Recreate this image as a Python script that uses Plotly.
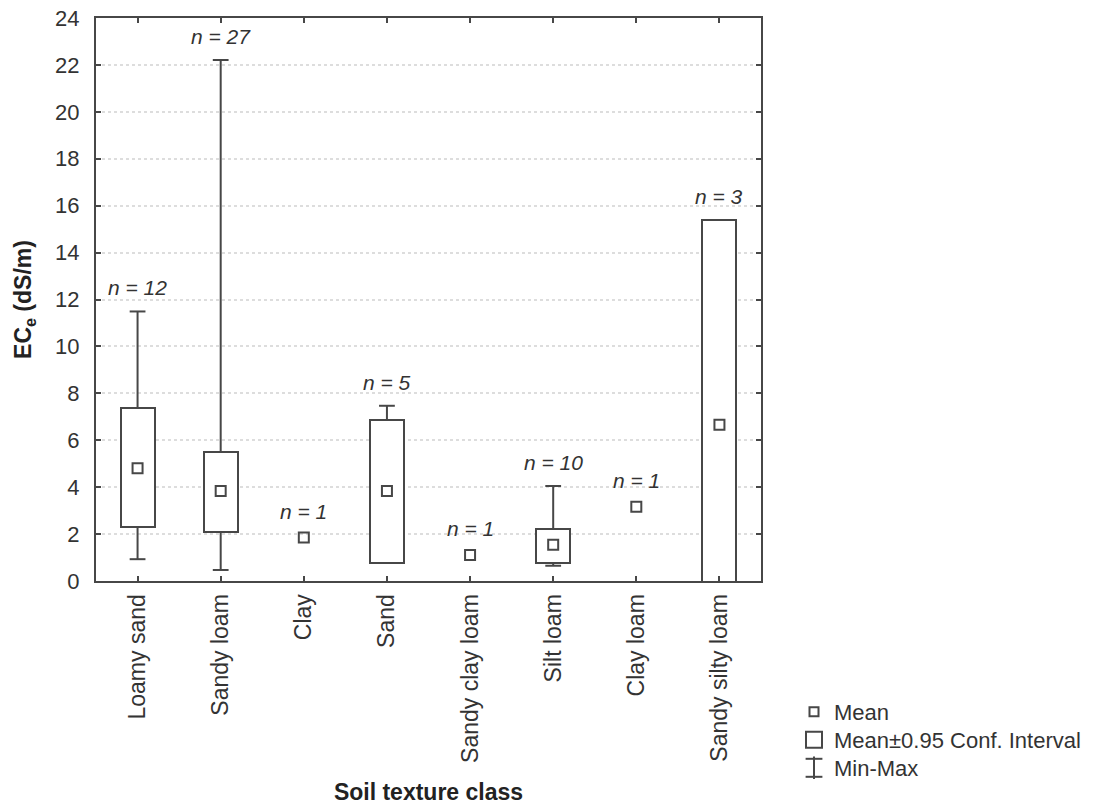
import plotly.graph_objects as go

categories = ["Loamy sand", "Sandy loam", "Clay", "Sand", "Sandy clay loam",
              "Silt loam", "Clay loam", "Sandy silty loam"]
n_counts = [12, 27, 1, 5, 1, 10, 1, 3]
means = [4.81, 3.84, 1.85, 3.84, 1.11, 1.54, 3.17, 6.66]
ci_low = [2.32, 2.10, None, 0.78, None, 0.78, None, -2.05]
ci_high = [7.37, 5.52, None, 6.87, None, 2.20, None, 15.37]
min_vals = [0.93, 0.47, 1.85, 0.90, 1.11, 0.65, 3.17, 3.10]
max_vals = [11.49, 22.21, 1.85, 7.47, 1.11, 4.05, 3.17, 10.50]
y_ticks = list(range(0, 25, 2))

LINE = "#474747"
TEXT = "#333333"
FONT = "Liberation Sans, Arial, sans-serif"
BOX_W = 0.41
CAP_HALF = 0.095

W, H = 1098, 807
ML, MT = 96, 18
MR = W - 761
MB = H - 581
PH = H - MT - MB
PW = W - ML - MR


def py(px):
    """pixel row -> paper y"""
    return ((H - MB) - px) / PH


def pxx(px):
    """pixel column -> paper x"""
    return (px - ML) / PW


xs = list(range(len(categories)))

fig = go.Figure()

# Confidence interval boxes
bx, bbase, bh = [], [], []
for i in xs:
    if ci_low[i] is not None:
        bx.append(i)
        bbase.append(ci_low[i])
        bh.append(ci_high[i] - ci_low[i])
fig.add_trace(go.Bar(
    x=bx, y=bh, base=bbase, width=BOX_W,
    marker=dict(color="white", line=dict(color=LINE, width=2)),
    showlegend=False, hoverinfo="skip"))

# Min-Max whiskers
wx, wy = [], []
for i in xs:
    if ci_low[i] is None:
        continue
    if max_vals[i] > ci_high[i]:
        wx += [i, i, None, i - CAP_HALF, i + CAP_HALF, None]
        wy += [ci_high[i], max_vals[i], None, max_vals[i], max_vals[i], None]
    if min_vals[i] < ci_low[i]:
        wx += [i, i, None, i - CAP_HALF, i + CAP_HALF, None]
        wy += [ci_low[i], min_vals[i], None, min_vals[i], min_vals[i], None]
fig.add_trace(go.Scatter(x=wx, y=wy, mode="lines",
                         line=dict(color=LINE, width=2),
                         showlegend=False, hoverinfo="skip"))

# Means
fig.add_trace(go.Scatter(x=xs, y=means, mode="markers",
                         marker=dict(symbol="square-open", size=10,
                                     color=LINE, line=dict(width=2, color=LINE)),
                         showlegend=False))

# Legend entries (each in its own legend box so rows can be placed freely)
fig.add_trace(go.Scatter(x=[None], y=[None], mode="markers", name="Mean",
                         legend="legend",
                         marker=dict(symbol="square-open", size=9, color=LINE,
                                     line=dict(width=2, color=LINE))))
fig.add_trace(go.Scatter(x=[None], y=[None], mode="markers",
                         name="Mean\u00b10.95 Conf. Interval", legend="legend2",
                         marker=dict(symbol="square-open", size=20, color=LINE,
                                     line=dict(width=2, color=LINE))))
fig.add_trace(go.Scatter(x=[None], y=[None], mode="markers", name="Min-Max",
                         legend="legend3",
                         marker=dict(symbol="line-ns-open", size=18, color=LINE,
                                     line=dict(width=2, color=LINE))))
fig.add_trace(go.Scatter(x=[None], y=[None], mode="markers", name=" ",
                         legend="legend4",
                         marker=dict(symbol="line-ew-open", size=12, color=LINE,
                                     line=dict(width=2, color=LINE))))
fig.add_trace(go.Scatter(x=[None], y=[None], mode="markers", name=" ",
                         legend="legend5",
                         marker=dict(symbol="line-ew-open", size=12, color=LINE,
                                     line=dict(width=2, color=LINE))))

# n labels
for i in xs:
    tops = [means[i], max_vals[i]]
    if ci_high[i] is not None:
        tops.append(ci_high[i])
    top = max(tops)
    shift = 10 if n_counts[i] > 1 else 13
    fig.add_annotation(x=i, y=top, text=f"<i>n = {n_counts[i]}</i>",
                       showarrow=False, yanchor="bottom", yshift=shift,
                       font=dict(family=FONT, size=21, color=TEXT))

base_leg = dict(x=pxx(794), xanchor="left", yanchor="middle",
                font=dict(family=FONT, size=22, color=TEXT),
                bgcolor="rgba(0,0,0,0)", itemwidth=30)

fig.update_layout(
    width=W, height=H,
    margin=dict(l=ML, r=MR, t=MT, b=MB, autoexpand=False),
    paper_bgcolor="white", plot_bgcolor="white",
    font=dict(family=FONT, size=22, color=TEXT),
    bargap=0, barmode="overlay",
    legend=dict(base_leg, y=py(712)),
    legend2=dict(base_leg, y=py(740)),
    legend3=dict(base_leg, y=py(768)),
    legend4=dict(base_leg, y=py(768) + 9 / PH),
    legend5=dict(base_leg, y=py(768) - 9 / PH),
)

fig.update_xaxes(
    range=[-0.5, 7.5], tickmode="array", tickvals=xs, ticktext=categories,
    tickangle=-90, ticks="inside", ticklen=5, tickwidth=1.5, tickcolor=LINE,
    showline=True, linecolor=LINE, linewidth=2, mirror="ticks",
    showgrid=False, zeroline=False, ticklabelstandoff=2, automargin=False,
    tickfont=dict(family=FONT, size=23, color=TEXT),
    title=dict(text="<b>Soil texture class</b>", standoff=22,
               font=dict(family=FONT, size=23, color="#222222")),
)
fig.update_yaxes(
    range=[0, 24], tickmode="array", tickvals=y_ticks,
    ticks="inside", ticklen=5, tickwidth=1.5, tickcolor=LINE,
    showline=True, linecolor=LINE, linewidth=2, mirror="ticks",
    showgrid=True, gridcolor="#dddddd", gridwidth=1.5, griddash="dot",
    zeroline=False, ticklabelstandoff=10, automargin=False,
    ticklabeloverflow="allow",
    tickfont=dict(family=FONT, size=22, color=TEXT),
    title=dict(text="<b>EC<sub>e</sub> (dS/m)</b>", standoff=17,
               font=dict(family=FONT, size=23, color="#222222")),
)

fig.write_html("out.html", config={"displayModeBar": False})

# remove the browser's default 8px body margin so the figure fills the window
with open("out.html", "r", encoding="utf-8") as f:
    html = f.read()
html = html.replace("<head>", "<head><style>html,body{margin:0;padding:0;overflow:hidden;}</style>", 1)
with open("out.html", "w", encoding="utf-8") as f:
    f.write(html)
